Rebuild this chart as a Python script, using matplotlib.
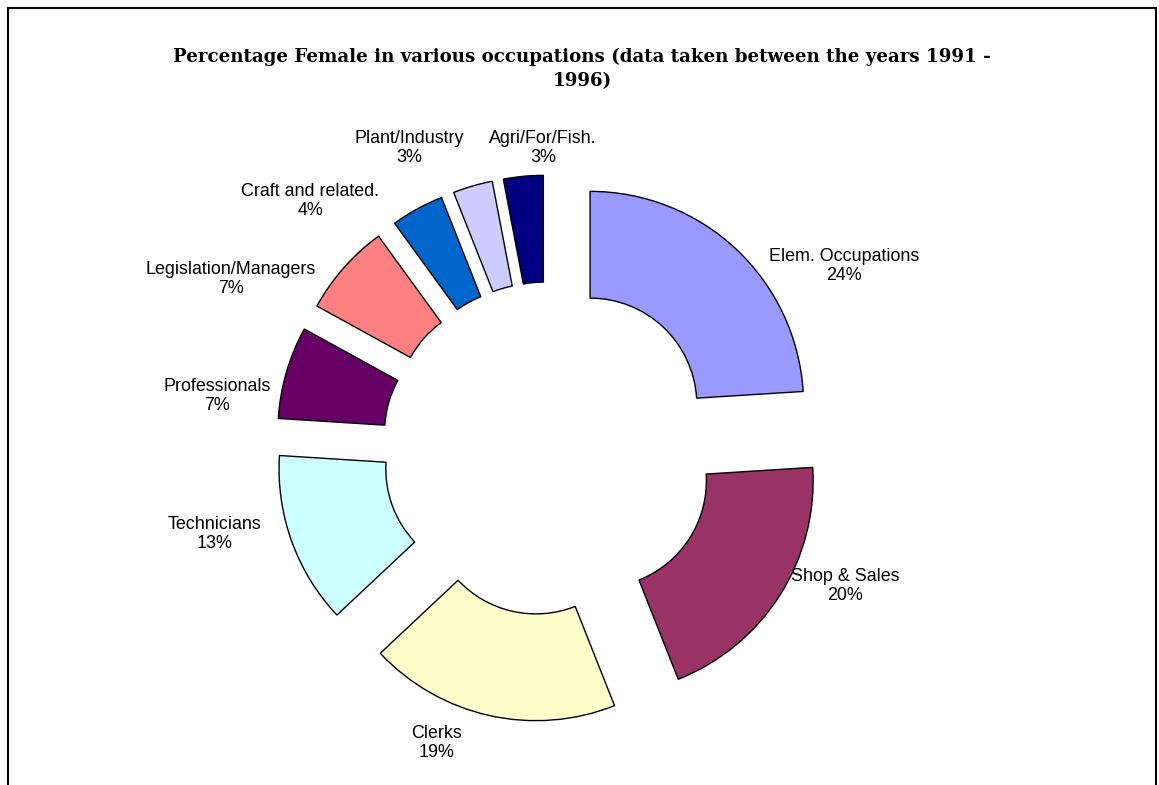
import matplotlib
matplotlib.use("Agg")
import matplotlib.pyplot as plt
from matplotlib.patches import Rectangle

# Share of women in each occupational group
occupations = ["Elem. Occupations", "Shop & Sales", "Clerks", "Technicians",
               "Professionals", "Legislation/Managers", "Craft and related.",
               "Plant/Industry", "Agri/For/Fish."]
percent_female = [24, 20, 19, 13, 7, 7, 4, 3, 3]
slice_colors = ["#9999FF", "#993366", "#FFFFCC", "#CCFFFF", "#660066",
                "#FF8080", "#0066CC", "#CCCCFF", "#000080"]

title_line1 = "Percentage Female in various occupations (data taken between the years 1991 -"
title_line2 = "1996)"

W, H = 1159, 785
fig = plt.figure(figsize=(W / 100, H / 100), dpi=100)
fig.patch.set_facecolor("white")

# pixel geometry of the doughnut
cx_px, cy_px, R_px = 549.0, 448.6, 213.5

ax = fig.add_axes([0, 0, 1, 1])
wedges, _ = ax.pie(
    percent_female,
    colors=slice_colors,
    startangle=90,
    counterclock=False,
    explode=[0.281] * len(percent_female),
    radius=1.0,
    wedgeprops=dict(width=0.5, edgecolor="black", linewidth=1.0),
)
ax.set_xlim(-cx_px / R_px, (W - cx_px) / R_px)
ax.set_ylim(-(H - cy_px) / R_px, cy_px / R_px)
ax.set_aspect("auto")
ax.axis("off")

# label anchor points (pixels from top-left)
label_pos_px = [(844, 266), (845, 586), (437, 743), (215, 534), (217, 396),
                (231, 279), (310, 201), (409, 148), (543, 148)]

def to_data(px, py):
    return (px - cx_px) / R_px, (cy_px - py) / R_px

for name, val, (px, py) in zip(occupations, percent_female, label_pos_px):
    x, y = to_data(px, py)
    ax.text(x, y, f"{name}\n{val}%", ha="center", va="center",
            fontsize=12.9, family="Liberation Sans", linespacing=1.2,
            color="black")

# title, sized so the first line spans the chart width
probe = fig.text(0.5, 0.5, title_line1, fontsize=12, family="DejaVu Serif",
                 weight="bold")
fig.canvas.draw()
w12 = probe.get_window_extent().width
probe.remove()
title_size = 12 * 813.0 / w12
fig.text(582 / W, 1 - 69 / H, title_line1 + "\n" + title_line2,
         ha="center", va="center", fontsize=title_size, family="DejaVu Serif",
         weight="bold", linespacing=1.45)

# chart border (open at the bottom edge of the image)
border = Rectangle((7.5 / W, -0.05), (1155.5 - 7.5) / W, 1 - 7.5 / H + 0.05,
                   transform=fig.transFigure, fill=False, edgecolor="black",
                   linewidth=1.5)
fig.add_artist(border)

fig.savefig("out.png", dpi=100, facecolor="white")
